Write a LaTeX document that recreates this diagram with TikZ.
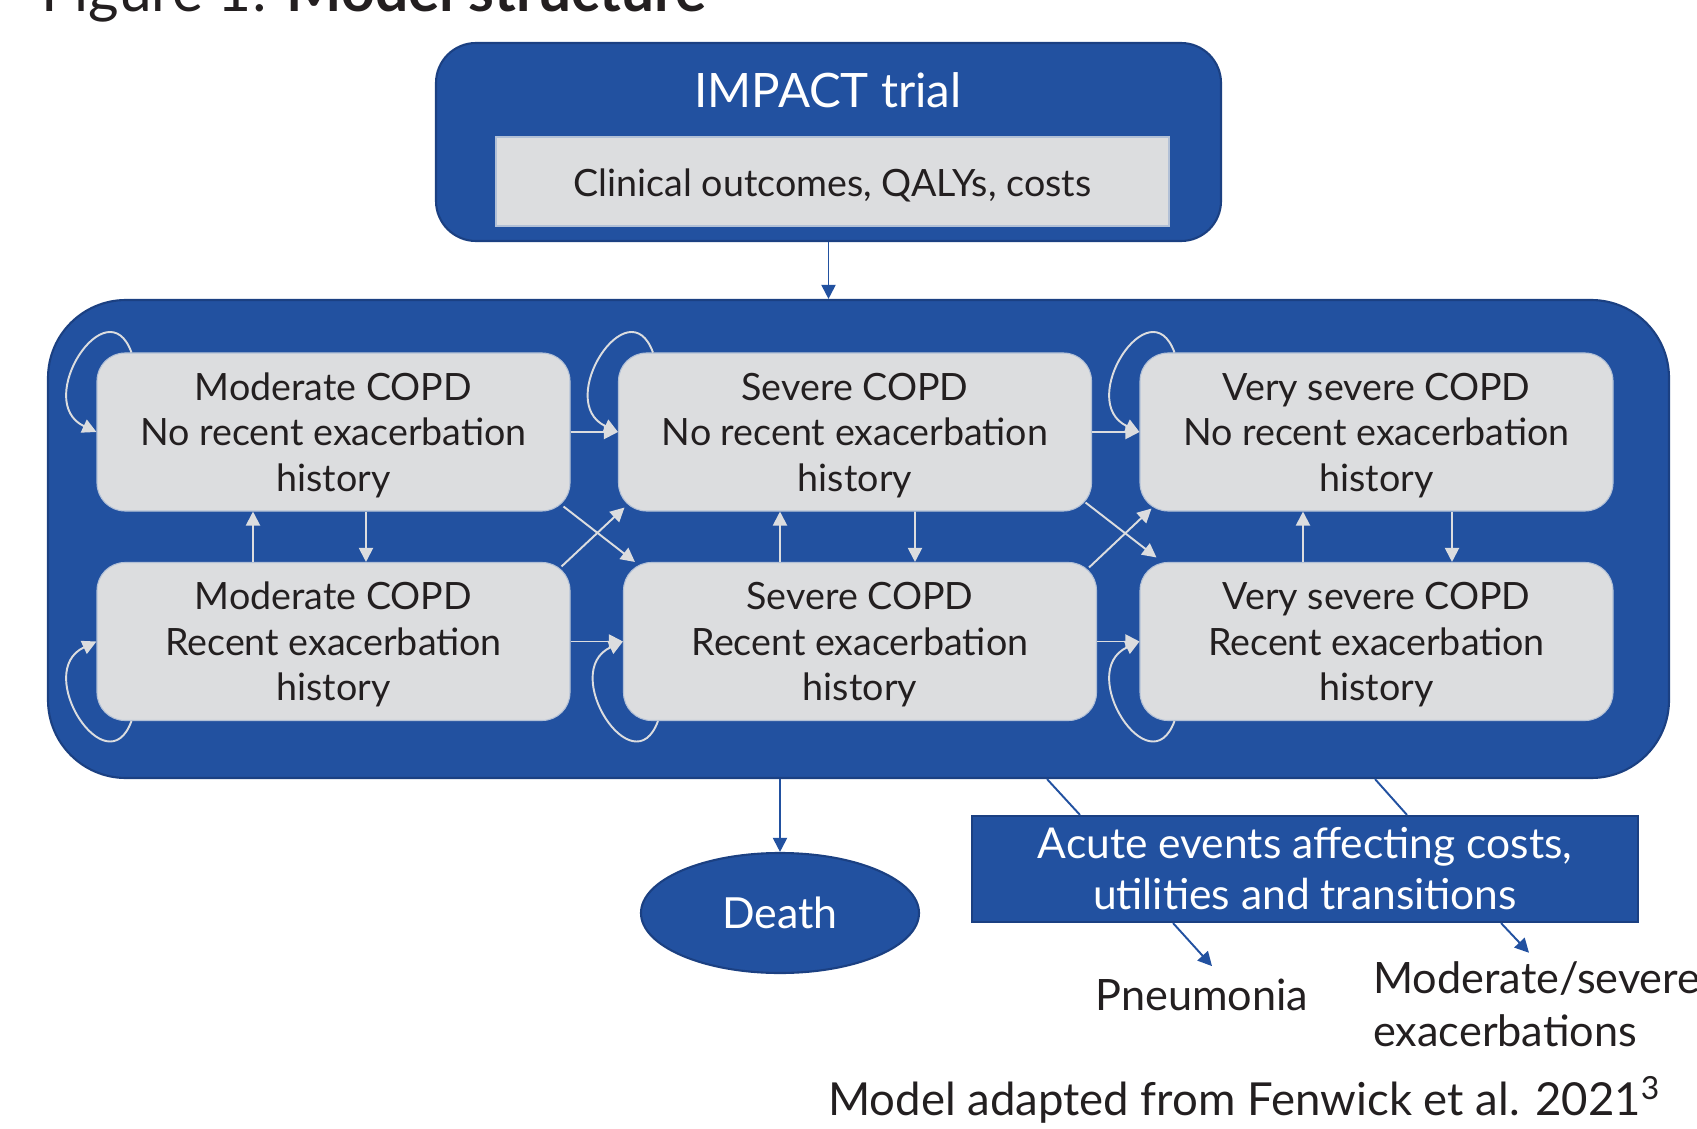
\documentclass[tikz,border=0pt]{standalone}
\usepackage{fontspec}
\setmainfont{Lato}
\usetikzlibrary{arrows.meta,positioning,shapes.geometric}

\definecolor{copdblue}{RGB}{34,81,160}
\definecolor{copdedge}{RGB}{27,64,130}
\definecolor{copdgrey}{RGB}{220,221,223}
\definecolor{copdline}{RGB}{178,192,214}
\definecolor{copdtext}{RGB}{35,31,32}

\begin{document}
\begin{tikzpicture}[->,>={Triangle[length=8pt,width=8pt]},node distance=10.43cm,
		blue box/.style={fill=copdblue,draw=copdedge,line width=1.2pt},
		state node/.style={rectangle,rounded corners=0.56cm,fill=copdgrey,draw=copdline,line width=0.6pt,
			minimum width=9.46cm,minimum height=3.16cm,align=center,text=copdtext,text depth=0pt,
			font=\fontsize{21.4}{25.9}\selectfont},
		state arrow/.style={color=copdgrey,line width=1.1pt},
		blue arrow/.style={color=copdblue,line width=1.1pt},
		label text/.style={text=copdtext,inner sep=0pt,font=\fontsize{24.6}{29.6}\selectfont}]
	\useasboundingbox (0,0) rectangle (33.94,-22.58);
	%
	% Title, cut by the top edge.
	\node[label text,anchor=base west,font=\fontsize{33.4}{40}\selectfont] (title) at (0.82,-0.24) {Figure 1: \textbf{Model structure}};
	%
	% Trial box.
	\node[blue box,rounded corners=0.8cm,minimum width=15.7cm,minimum height=3.96cm] (impact) at (16.57,-2.84) {};
	\node[text=white,font=\fontsize{27}{32}\selectfont] (impact title) at (16.56,-1.8) {IMPACT trial};
	\node[fill=copdgrey,draw=copdline,line width=0.6pt,minimum width=13.46cm,minimum height=1.78cm,
		text height=0.7cm,text depth=0.08cm,text=copdtext,font=\fontsize{21.4}{26}\selectfont] (outcomes) at (16.65,-3.63) {Clinical outcomes, QALYs, costs};
	%
	% Markov model with six health states.
	\node[blue box,rounded corners=1.56cm,minimum width=32.42cm,minimum height=9.56cm] (model) at (17.17,-10.78) {};
	\node[state node] (mod) at (6.67,-8.64) {Moderate COPD\\No recent exacerbation\\history};
	\node[state node] (sev) [right of=mod] {Severe COPD\\No recent exacerbation\\history};
	\node[state node] (vsev) [right of=sev] {Very severe COPD\\No recent exacerbation\\history};
	\node[state node] (modR) [below of=mod,node distance=4.19cm] {Moderate COPD\\Recent exacerbation\\history};
	\node[state node] (sevR) [below of=sev,node distance=4.19cm,xshift=0.1cm] {Severe COPD\\Recent exacerbation\\history};
	\node[state node] (vsevR) [below of=vsev,node distance=4.19cm] {Very severe COPD\\Recent exacerbation\\history};
	%
	% Outside the model.
	\node[blue box,ellipse,minimum width=5.56cm,minimum height=2.4cm,text=white,
		font=\fontsize{24.4}{28}\selectfont] (death) at (15.6,-18.26) {Death};
	\node[blue box,minimum width=13.32cm,minimum height=2.12cm,align=center,text=white,
		font=\fontsize{24.2}{29}\selectfont] (acute) at (26.1,-17.38) {Acute events affecting costs,\\utilities and transitions};
	\node[label text,anchor=base] (pneu) at (24.04,-20.2) {Pneumonia};
	\node[label text,anchor=base west,align=left] (exac) at (27.46,-20.92) {Moderate/severe\\exacerbations};
	\node[label text,anchor=base west,font=\fontsize{25.9}{30}\selectfont] (source) at (16.56,-22.3) {Model adapted from Fenwick et al. 2021\textsuperscript{3}};
	%
	% Staying in the same state.
	\path[state arrow]
		([xshift=0.7cm]mod.north west) edge [out=110,in=155,looseness=2.1] (mod.west)
		([xshift=0.7cm]sev.north west) edge [out=110,in=155,looseness=2.1] (sev.west)
		([xshift=0.7cm]vsev.north west) edge [out=110,in=155,looseness=2.1] (vsev.west);
	\path[state arrow]
		([xshift=0.7cm]modR.south west) edge [out=-110,in=-155,looseness=2.1] (modR.west)
		([xshift=0.7cm]sevR.south west) edge [out=-110,in=-155,looseness=2.1] (sevR.west)
		([xshift=0.7cm]vsevR.south west) edge [out=-110,in=-155,looseness=2.1] (vsevR.west);
	%
	% Progression to the next severity.
	\path[state arrow]
		(mod) edge (sev)
		(sev) edge (vsev)
		(modR) edge (sevR)
		(sevR) edge (vsevR);
	\path[state arrow]
		([shift={(-0.14cm,0.1cm)}]mod.south east) edge ([shift={(0.24cm,0cm)}]sevR.north west)
		([shift={(-0.18cm,-0.09cm)}]modR.north east) edge ([shift={(0.13cm,0.08cm)}]sev.south west)
		([shift={(-0.13cm,0.18cm)}]sev.south east) edge ([shift={(0.34cm,0.09cm)}]vsevR.north west)
		([shift={(-0.16cm,-0.11cm)}]sevR.north east) edge ([shift={(0.24cm,0.06cm)}]vsev.south west);
	%
	% Gaining or losing a recent exacerbation.
	\path[state arrow]
		([xshift=-1.61cm]modR.north) edge ([xshift=-1.61cm]mod.south)
		([xshift=0.65cm]mod.south) edge ([xshift=0.65cm]modR.north)
		([xshift=-1.6cm]sevR.north) edge ([xshift=-1.5cm]sev.south)
		([xshift=1.2cm]sev.south) edge ([xshift=1.1cm]sevR.north)
		([xshift=-1.47cm]vsevR.north) edge ([xshift=-1.47cm]vsev.south)
		([xshift=1.51cm]vsev.south) edge ([xshift=1.51cm]vsevR.north);
	%
	% Links in and out of the model.
	\path[blue arrow]
		(impact.south) edge (impact.south |- model.north)
		(death.north |- model.south) edge (death.north)
		([xshift=-2.64cm]acute.south) edge ([shift={(0.2cm,0.24cm)}]pneu.north)
		([xshift=3.92cm]acute.south) edge ([shift={(3.12cm,0.18cm)}]exac.north west);
	\path[blue arrow,-]
		([xshift=3.77cm]model.south) edge ([xshift=-4.5cm]acute.north)
		([xshift=10.33cm]model.south) edge ([xshift=2.04cm]acute.north);
\end{tikzpicture}
\end{document}
